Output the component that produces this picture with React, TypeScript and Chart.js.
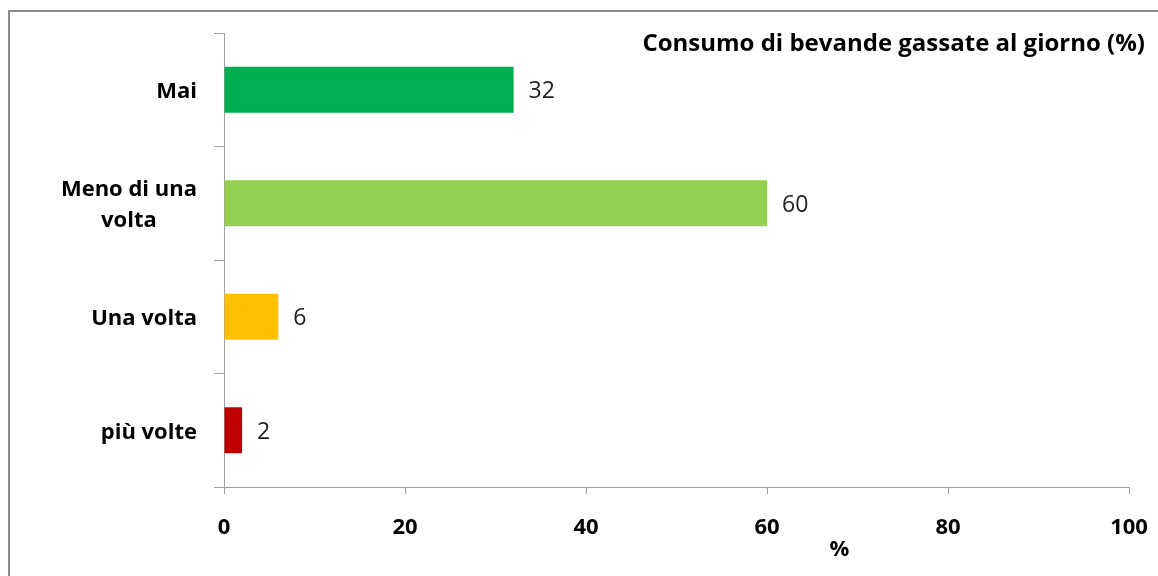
import React, { useEffect, useRef } from "react";
import { Chart, registerables } from "chart.js";

Chart.register(...registerables);

const categories: string[][] = [["Mai"], ["Meno di una", "volta"], ["Una volta"], ["più volte"]];
const values: number[] = [32, 60, 6, 2];
const barColors: string[] = ["#00B050", "#92D050", "#FFC000", "#C00000"];
const xTicks: number[] = [0, 20, 40, 60, 80, 100];
const chartTitle = "Consumo di bevande gassate al giorno (%)";
const xAxisTitle = "%";
const xAxisTitleAt = 68;

const FONT = "'Open Sans', 'Noto Sans', sans-serif";
const AXIS_GRAY = "#a0a0a0";

const overlay = {
  id: "overlay",
  beforeDraw(chart: any) {
    const ctx = chart.ctx;
    ctx.save();
    ctx.fillStyle = "#ffffff";
    ctx.fillRect(0, 0, chart.width, chart.height);
    ctx.fillStyle = "#8a8a8a";
    ctx.fillRect(8, 10, 2, chart.height);
    ctx.fillRect(8, 10, chart.width, 2);
    ctx.restore();
  },
  afterDraw(chart: any) {
    const ctx = chart.ctx;
    const xs = chart.scales.x;
    const ys = chart.scales.y;
    ctx.save();
    // title
    ctx.fillStyle = "#000";
    ctx.font = `bold 24px ${FONT}`;
    ctx.textAlign = "right";
    ctx.textBaseline = "middle";
    ctx.fillText(chartTitle, 1145, 44);
    // x axis title
    ctx.font = `bold 22px ${FONT}`;
    ctx.textAlign = "center";
    ctx.fillText(xAxisTitle, xs.getPixelForValue(xAxisTitleAt), 550);
    // y labels
    ctx.font = `bold 22px ${FONT}`;
    const lh = 31;
    categories.forEach((lines, i) => {
      const cy = ys.getPixelForValue(i);
      const w = Math.max(...lines.map((l) => ctx.measureText(l).width));
      const right = xs.left - 27;
      const cx = right - w / 2;
      lines.forEach((l, j) => {
        const y = cy + (j - (lines.length - 1) / 2) * lh + 2;
        ctx.fillText(l, cx, y);
      });
    });
    // data labels
    ctx.font = `23px ${FONT}`;
    ctx.fillStyle = "#222";
    ctx.textAlign = "left";
    const meta = chart.getDatasetMeta(0);
    meta.data.forEach((bar: any, i: number) => {
      ctx.fillText(String(values[i]), bar.x + 15, bar.y + 2);
    });
    ctx.restore();
  },
};

export default function App() {
  const ref = useRef<HTMLCanvasElement>(null);
  useEffect(() => {
    document.body.style.margin = "0";
    let chart: Chart | null = null;
    let cancelled = false;
    const make = () => {
      if (cancelled || !ref.current) return;
      chart = new Chart(ref.current, {
        type: "bar",
        data: {
          labels: categories.map((c) => c.join(" ")),
          datasets: [
            {
              data: values,
              backgroundColor: barColors,
              borderWidth: 0,
              categoryPercentage: 1,
              barPercentage: 0.405,
            },
          ],
        },
        options: {
          indexAxis: "y",
          responsive: false,
          animation: false,
          devicePixelRatio: 1,
          layout: { padding: { left: 0, top: 33, right: 29, bottom: 0 } },
          plugins: { legend: { display: false }, tooltip: { enabled: false }, title: { display: false } },
          scales: {
            x: {
              min: 0,
              max: 100,
              afterBuildTicks: (s: any) => {
                s.ticks = xTicks.map((v) => ({ value: v }));
              },
              afterFit: (s: any) => {
                s.height = 89;
                s.paddingLeft = 0;
                s.paddingRight = 0;
              },
              border: { display: true, color: AXIS_GRAY, width: 1 },
              grid: { drawOnChartArea: false, drawTicks: true, tickLength: 7, color: AXIS_GRAY },
              ticks: {
                color: "#000",
                font: { family: FONT, weight: "bold", size: 22 },
                padding: 21,
                maxRotation: 0,
              },
            },
            y: {
              afterFit: (s: any) => {
                s.width = 224;
                s.paddingTop = 0;
                s.paddingBottom = 0;
              },
              border: { display: true, color: AXIS_GRAY, width: 1 },
              grid: { drawOnChartArea: false, drawTicks: true, tickLength: 10, color: AXIS_GRAY, offset: true },
              ticks: { display: false },
            },
          },
        },
        plugins: [overlay],
      });
    };
    const fontsApi: any = (document as any).fonts;
    if (fontsApi && fontsApi.load) {
      Promise.all([
        fontsApi.load(`bold 22px 'Open Sans'`),
        fontsApi.load(`22px 'Open Sans'`),
      ]).then(make, make);
    } else make();
    return () => {
      cancelled = true;
      if (chart) chart.destroy();
    };
  }, []);
  return (
    <div style={{ width: 1158, height: 576, overflow: "hidden" }}>
      <canvas ref={ref} width={1158} height={576} style={{ display: "block" }} />
    </div>
  );
}
